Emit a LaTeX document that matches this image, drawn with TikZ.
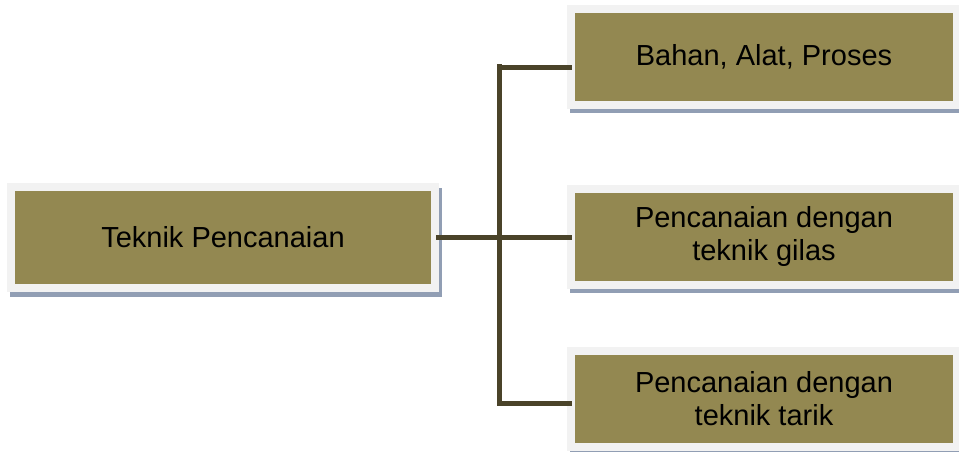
\documentclass[tikz,border=0pt]{standalone}
\usepackage{fontspec}
\setmainfont{Liberation Sans}
\usepackage{tikz}
\usetikzlibrary{shadows}

\definecolor{olivefill}{RGB}{147,136,81}
\definecolor{framegray}{RGB}{242,242,242}
\definecolor{shadowblue}{RGB}{145,158,180}
\definecolor{linkbrown}{RGB}{74,67,41}

\begin{document}
\begin{tikzpicture}[x=0.75pt, y=-0.75pt]
		\tikzstyle{pbox} = [fill=framegray, inner sep=0pt, align=center,
			font=\fontsize{21.75}{25}\selectfont,
			drop shadow={shadow xshift=2.4pt, shadow yshift=-3.6pt, fill=shadowblue, opacity=1},
			path picture={\fill[olivefill] ([shift={(6pt,-6pt)}]path picture bounding box.north west)
				rectangle ([shift={(-6pt,6pt)}]path picture bounding box.south east);}]
		\tikzstyle{leftbox} = [pbox, minimum width=324pt, minimum height=81.75pt]
		\tikzstyle{rightbox} = [pbox, minimum width=295.5pt, minimum height=78pt]
		\tikzstyle{link} = [line width=3.75pt, linkbrown]

		\useasboundingbox (0,0) rectangle (959,451);

		\node[leftbox] (root) at (223,237.5) {Teknik Pencanaian};
		\node[rightbox] (bahan) at (764,56.5) {Bahan, Alat, Proses};
		\node[rightbox] (gilas) at (764,236.5) {Pencanaian dengan\\teknik gilas};
		\node[rightbox] (tarik) at (764,398.5) {Pencanaian dengan\\teknik tarik};

		\coordinate (jtop) at (499,67);
		\coordinate (jbot) at (499,403);

		\draw[link] ([xshift=-2.25pt]root.east) -- ([xshift=3.75pt]root.east -| gilas.west);
		\draw[link] ([yshift=1.9pt]jtop) -- ([yshift=-1.9pt]jbot);
		\draw[link] (jtop) -- ([xshift=3.75pt]jtop -| bahan.west);
		\draw[link] (jbot) -- ([xshift=3.75pt]jbot -| tarik.west);
\end{tikzpicture}
\end{document}
